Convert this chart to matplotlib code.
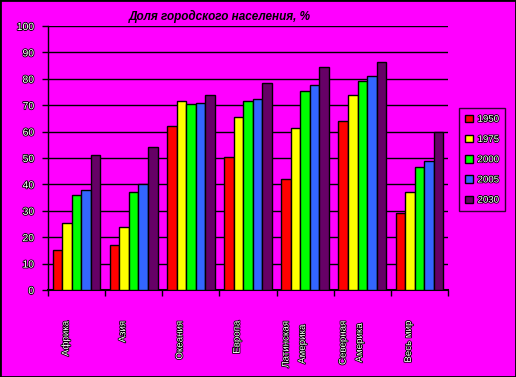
import numpy as np
import matplotlib.pyplot as plt
import matplotlib.patheffects as pe
from matplotlib.patches import Rectangle

plt.rcParams['font.family'] = ['Liberation Sans', 'DejaVu Sans']

# data
regions = ['Африка', 'Азия', 'Океания', 'Европа', 'Латинская\nАмерика',
           'Северная\nАмерика', 'Весь мир']
years = ['1950', '1975', '2000', '2005', '2030']
v1950 = [15, 17, 62, 50.5, 42, 64, 29]
v1975 = [25.5, 24, 71.5, 65.5, 61.5, 74, 37]
v2000 = [36, 37, 70.5, 71.5, 75.5, 79, 46.5]
v2005 = [38, 40, 71, 72.5, 77.5, 81, 49]
v2030 = [51, 54, 74, 78.5, 84.5, 86.5, 60]
series = [v1950, v1975, v2000, v2005, v2030]
colors = ['#FF0000', '#FFFF00', '#00FF00', '#3366FF', '#660066']

bg = '#FF00FF'
outline = [pe.withStroke(linewidth=1.2, foreground='black')]

fig = plt.figure(figsize=(5.16, 3.77), dpi=100, facecolor=bg)
ax = fig.add_axes([48/516, 1-290/377, 400/516, 264/377])
ax.set_facecolor(bg)

n = len(regions)
x = np.arange(n)
w = 1/6
for k, (vals, c) in enumerate(zip(series, colors)):
    ax.bar(x + (k - 2) * w, vals, width=w, color=c, edgecolor='black',
           linewidth=1, label=years[k], zorder=3)

ax.set_xlim(-0.5, n - 0.5)
ax.set_ylim(0, 100)
ax.set_yticks(range(0, 101, 10))
ax.yaxis.grid(True, color='black', linewidth=1, zorder=0)
ax.set_axisbelow(True)
ax.set_xticks(np.arange(-0.5, n, 1))
ax.set_xticklabels([])
ax.tick_params(axis='x', direction='out', length=4, width=1)
ax.tick_params(axis='y', direction='out', length=4, width=1, pad=6)
for lab in ax.get_yticklabels():
    lab.set_fontsize(7.5)
    lab.set_color('white')
    lab.set_path_effects(outline)
for s in ['top', 'right']:
    ax.spines[s].set_visible(False)
ax.spines['left'].set_linewidth(1)
ax.spines['bottom'].set_linewidth(1.5)

for i, r in enumerate(regions):
    t = ax.text(i - 0.2, -11.7, r, rotation=90, ha='center', va='top',
                fontsize=7, color='white', linespacing=1.8, clip_on=False)
    t.set_path_effects(outline)

fig.text(220/516, 1-16/377, 'Доля городского населения, %', ha='center',
         va='center', fontsize=8.5, fontweight='bold', fontstyle='italic')

leg = fig.legend(loc='upper left', bbox_to_anchor=(459/516, 1-108/377),
                 borderaxespad=0, frameon=True, fancybox=False, fontsize=7,
                 handlelength=0.8, handleheight=0.8, labelspacing=1.05,
                 borderpad=0.6, handletextpad=0.5)
leg.get_frame().set_facecolor(bg)
leg.get_frame().set_edgecolor('black')
leg.get_frame().set_linewidth(1)
for txt in leg.get_texts():
    txt.set_color('white')
    txt.set_path_effects(outline)

fig.patches.append(Rectangle((0, 0), 1, 1, transform=fig.transFigure,
                             fill=False, edgecolor='black', linewidth=2))

fig.savefig('out.png', dpi=100, facecolor=bg)
